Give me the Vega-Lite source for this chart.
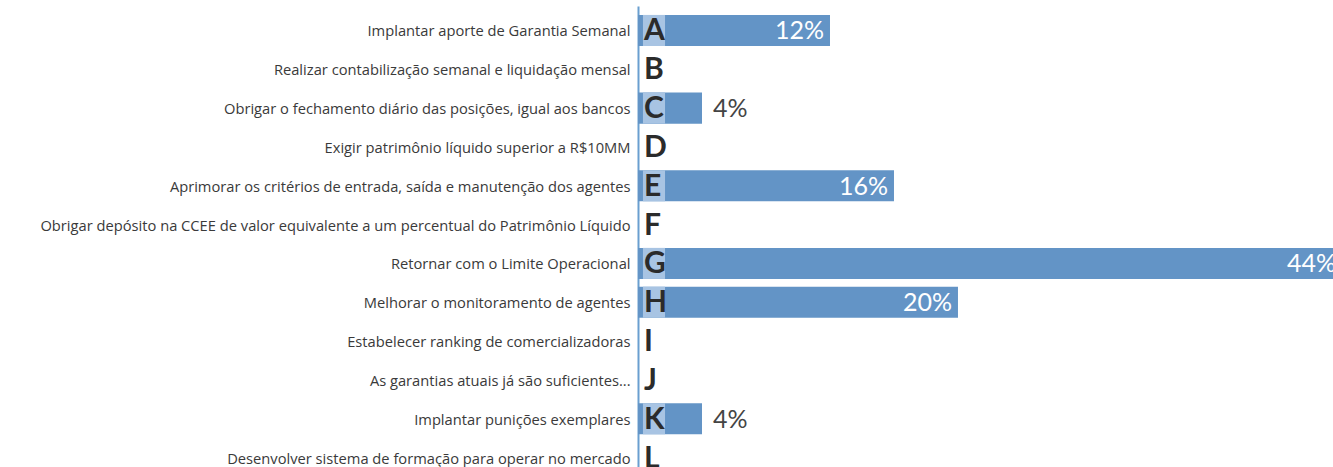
{
  "$schema": "https://vega.github.io/schema/vega-lite/v6.json",
  "autosize": {"type": "none"},
  "width": 695,
  "height": 461,
  "padding": {"left": 638, "top": 6, "right": 0, "bottom": 0},
  "background": "white",
  "config": {"view": {"stroke": null}, "font": "Lato"},
  "data": {
    "values": [
      {"letter": "A", "label": "Implantar aporte de Garantia Semanal", "pct": 0.12},
      {"letter": "B", "label": "Realizar contabilização semanal e liquidação mensal", "pct": 0},
      {"letter": "C", "label": "Obrigar o fechamento diário das posições, igual aos bancos", "pct": 0.04},
      {"letter": "D", "label": "Exigir patrimônio líquido superior a R$10MM", "pct": 0},
      {"letter": "E", "label": "Aprimorar os critérios de entrada, saída e manutenção dos agentes", "pct": 0.16},
      {"letter": "F", "label": "Obrigar depósito na CCEE de valor equivalente a um percentual do Patrimônio Líquido", "pct": 0},
      {"letter": "G", "label": "Retornar com o Limite Operacional", "pct": 0.44},
      {"letter": "H", "label": "Melhorar o monitoramento de agentes", "pct": 0.20},
      {"letter": "I", "label": "Estabelecer ranking de comercializadoras", "pct": 0},
      {"letter": "J", "label": "As garantias atuais já são suficientes...", "pct": 0},
      {"letter": "K", "label": "Implantar punições exemplares", "pct": 0.04},
      {"letter": "L", "label": "Desenvolver sistema de formação para operar no mercado", "pct": 0}
    ]
  },
  "encoding": {
    "y": {
      "field": "label",
      "type": "nominal",
      "sort": [
        "Implantar aporte de Garantia Semanal",
        "Realizar contabilização semanal e liquidação mensal",
        "Obrigar o fechamento diário das posições, igual aos bancos",
        "Exigir patrimônio líquido superior a R$10MM",
        "Aprimorar os critérios de entrada, saída e manutenção dos agentes",
        "Obrigar depósito na CCEE de valor equivalente a um percentual do Patrimônio Líquido",
        "Retornar com o Limite Operacional",
        "Melhorar o monitoramento de agentes",
        "Estabelecer ranking de comercializadoras",
        "As garantias atuais já são suficientes...",
        "Implantar punições exemplares",
        "Desenvolver sistema de formação para operar no mercado"
      ],
      "scale": {"paddingInner": 0.2, "paddingOuter": 0.23, "range": [0, 476]},
      "axis": {
        "title": null,
        "ticks": false,
        "labelPadding": 8,
        "labelOffset": 2,
        "labelFontSize": 14.7,
        "labelColor": "#3a3a3a",
        "labelFont": "Open Sans",
        "labelLimit": 800,
        "domainColor": "#6a9fd0",
        "domainWidth": 2
      }
    }
  },
  "layer": [
    {
      "transform": [{"filter": "datum.pct > 0"}],
      "mark": {"type": "bar", "color": "#6394c6", "clip": true},
      "encoding": {
        "x": {"field": "pct", "type": "quantitative", "scale": {"domain": [0, 0.4344], "nice": false}, "axis": null}
      }
    },
    {
      "transform": [{"filter": "datum.pct > 0"}],
      "mark": {"type": "bar", "color": "#a8c4e3"},
      "encoding": {
        "x": {"datum": 0.0031, "type": "quantitative"},
        "x2": {"datum": 0.0169}
      }
    },
    {
      "mark": {"type": "text", "align": "left", "baseline": "middle", "dx": 6, "dy": 1, "fontSize": 30, "fontWeight": "bold", "font": "Lato", "color": "#2b2b2b"},
      "encoding": {
        "x": {"datum": 0, "type": "quantitative"},
        "text": {"field": "letter"}
      }
    },
    {
      "transform": [{"filter": "datum.pct >= 0.1"}],
      "mark": {"type": "text", "align": "right", "baseline": "middle", "dx": -6, "dy": 1, "fontSize": 25, "font": "Lato", "color": "white"},
      "encoding": {
        "x": {"field": "pct", "type": "quantitative"},
        "text": {"field": "pct", "format": ".0%"}
      }
    },
    {
      "transform": [{"filter": "datum.pct > 0 && datum.pct < 0.1"}],
      "mark": {"type": "text", "align": "left", "baseline": "middle", "dx": 11, "dy": 1, "fontSize": 25, "font": "Lato", "color": "#444444"},
      "encoding": {
        "x": {"field": "pct", "type": "quantitative"},
        "text": {"field": "pct", "format": ".0%"}
      }
    }
  ]
}
